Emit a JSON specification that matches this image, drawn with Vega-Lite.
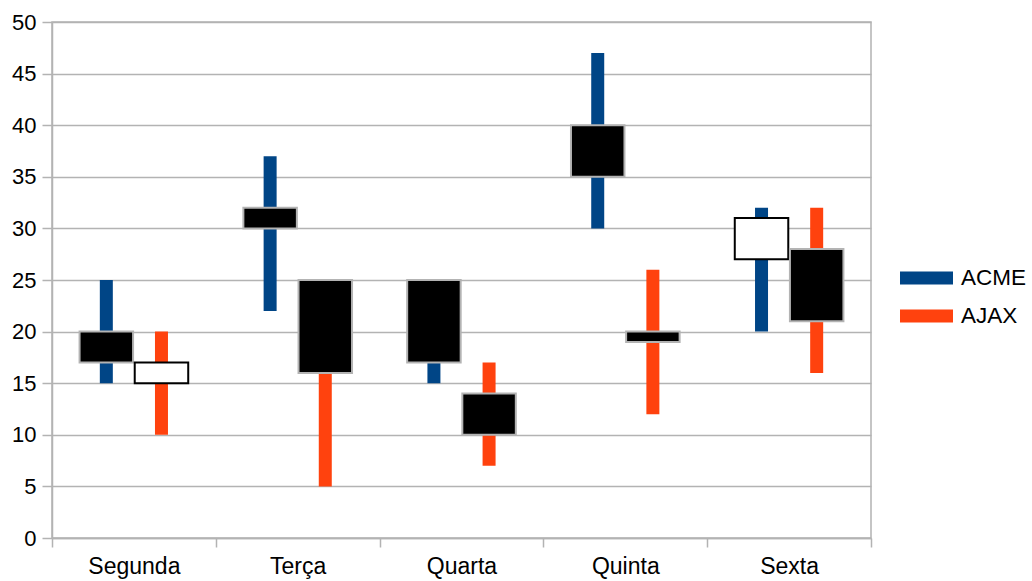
{
  "$schema": "https://vega.github.io/schema/vega-lite/v6.json",
  "width": 819,
  "height": 516,
  "autosize": "none",
  "padding": {"left": 52, "top": 22, "right": 161, "bottom": 43},
  "background": "white",
  "config": {
    "font": "Liberation Sans",
    "view": {"stroke": "#b3b3b3", "strokeWidth": 1.5},
    "axis": {
      "labelFont": "Liberation Sans",
      "labelFontSize": 22,
      "labelColor": "black",
      "domainColor": "#b3b3b3",
      "domainWidth": 1.5,
      "tickColor": "#b3b3b3",
      "tickWidth": 1.5,
      "gridColor": "#b3b3b3",
      "gridWidth": 1.5,
      "title": null
    },
    "legend": {
      "labelFont": "Liberation Sans",
      "labelFontSize": 22.5,
      "labelColor": "black"
    }
  },
  "data": {
    "values": [
      {"day": "Segunda", "series": "ACME", "low": 15, "high": 25, "open": 20, "close": 17, "dir": "down"},
      {"day": "Segunda", "series": "AJAX", "low": 10, "high": 20, "open": 15, "close": 17, "dir": "up"},
      {"day": "Terça", "series": "ACME", "low": 22, "high": 37, "open": 32, "close": 30, "dir": "down"},
      {"day": "Terça", "series": "AJAX", "low": 5, "high": 25, "open": 25, "close": 16, "dir": "down"},
      {"day": "Quarta", "series": "ACME", "low": 15, "high": 25, "open": 25, "close": 17, "dir": "down"},
      {"day": "Quarta", "series": "AJAX", "low": 7, "high": 17, "open": 14, "close": 10, "dir": "down"},
      {"day": "Quinta", "series": "ACME", "low": 30, "high": 47, "open": 40, "close": 35, "dir": "down"},
      {"day": "Quinta", "series": "AJAX", "low": 12, "high": 26, "open": 20, "close": 19, "dir": "down"},
      {"day": "Sexta", "series": "ACME", "low": 20, "high": 32, "open": 27, "close": 31, "dir": "up"},
      {"day": "Sexta", "series": "AJAX", "low": 16, "high": 32, "open": 28, "close": 21, "dir": "down"}
    ]
  },
  "encoding": {
    "x": {
      "field": "day",
      "type": "nominal",
      "sort": ["Segunda", "Terça", "Quarta", "Quinta", "Sexta"],
      "scale": {"paddingInner": 0, "paddingOuter": 0},
      "axis": {
        "labelAngle": 0,
        "labelFontSize": 23,
        "tickBand": "extent",
        "tickSize": 9,
        "labelPadding": 8,
        "grid": false
      }
    },
    "xOffset": {
      "field": "series",
      "type": "nominal",
      "scale": {"paddingInner": 0.03, "paddingOuter": 0.5}
    }
  },
  "layer": [
    {
      "mark": {"type": "bar", "width": 13},
      "encoding": {
        "y": {
          "field": "low",
          "type": "quantitative",
          "scale": {"domain": [0, 50]},
          "axis": {"values": [0, 5, 10, 15, 20, 25, 30, 35, 40, 45, 50], "tickSize": 10, "labelPadding": 6, "grid": true}
        },
        "y2": {"field": "high"},
        "color": {
          "field": "series",
          "type": "nominal",
          "scale": {"domain": ["ACME", "AJAX"], "range": ["#004586", "#ff420e"]},
          "legend": {
            "title": null,
            "orient": "none",
            "legendX": 848,
            "legendY": 229.5,
            "symbolType": "M-1,-0.245H1V0.245H-1Z",
            "symbolSize": 2809,
            "symbolStrokeWidth": 0,
            "labelOffset": 8,
            "rowPadding": -20
          }
        }
      }
    },
    {
      "mark": {"type": "bar", "strokeWidth": 2},
      "encoding": {
        "y": {"field": "open", "type": "quantitative"},
        "y2": {"field": "close"},
        "fill": {
          "field": "dir",
          "type": "nominal",
          "scale": {"domain": ["down", "up"], "range": ["black", "white"]},
          "legend": null
        },
        "stroke": {
          "field": "dir",
          "type": "nominal",
          "scale": {"domain": ["down", "up"], "range": ["#b3b3b3", "black"]},
          "legend": null
        }
      }
    }
  ]
}
